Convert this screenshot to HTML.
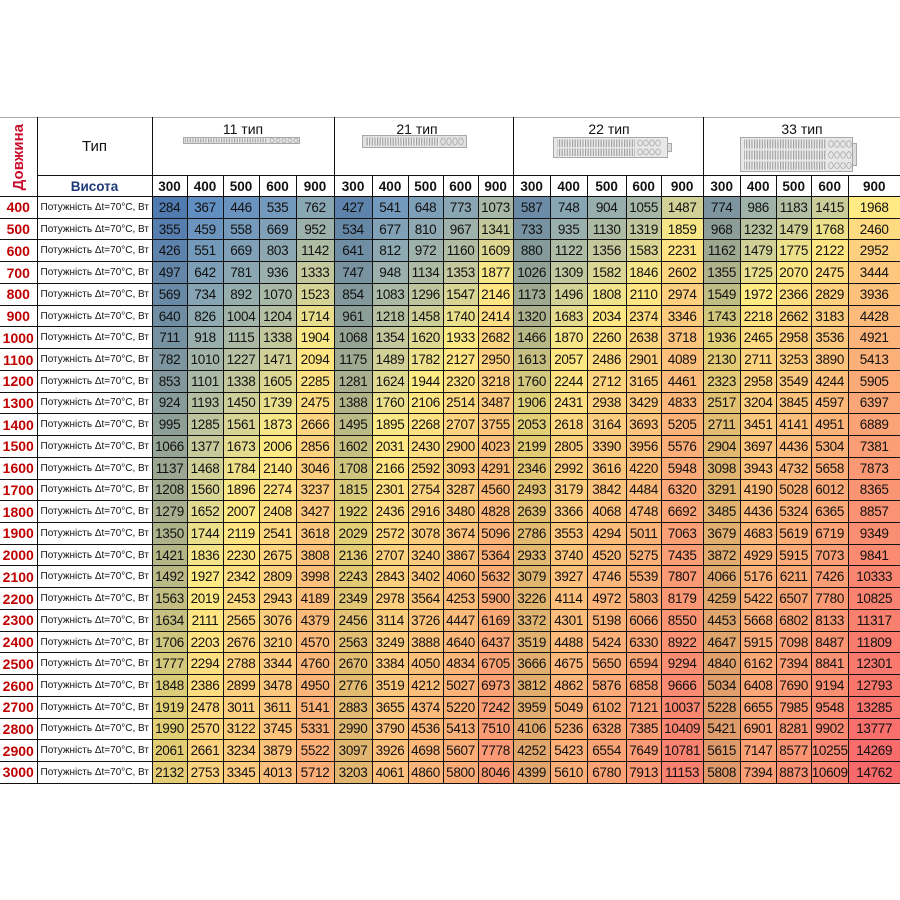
<!DOCTYPE html>
<html><head><meta charset="utf-8">
<style>
html,body{margin:0;padding:0;background:#fff}
body{width:900px;height:900px;overflow:hidden;position:relative;font-family:"Liberation Sans",Arial,sans-serif;color:#111}
table{position:absolute;left:0;top:117px;border-collapse:collapse;table-layout:fixed;width:900px}
td{border:1px solid #111;padding:0;text-align:center;white-space:nowrap;overflow:hidden;vertical-align:middle}
tr.h1{height:58px}
tr.h1 td{border-top-color:#aaa}
tr.h2{height:21px}
tr.h2 td{font-weight:bold;font-size:13.5px}
tr.r{height:21.74px}
td.dv{border-left:none;border-top-color:#aaa}
td.dv div{writing-mode:vertical-rl;transform:rotate(180deg);color:#c8102e;font-weight:bold;font-size:15px;margin:0 auto}
td.tp{font-size:15px}
td.vs{color:#1f3a78!important;font-size:13.5px}
td.n{color:#c00000;font-weight:bold;font-size:14px;border-left:none}
td.t{font-size:10px;text-align:left;padding-left:3px;background:#fff}
td.d{font-size:13.5px;letter-spacing:-0.3px;
--t:clamp(0,(var(--v) - 284)/1666,1);
--u:calc(0.18*clamp(0,(var(--v) - 1950)/732,1) + 0.12*clamp(0,(var(--v) - 2682)/1036,1) + 0.12*clamp(0,(var(--v) - 3718)/1203,1) + 0.18*clamp(0,(var(--v) - 4921)/2460,1) + 0.18*clamp(0,(var(--v) - 7381)/3028,1) + 0.22*clamp(0,(var(--v) - 10409)/4353,1));
background-color:rgb(calc(90 + 165*var(--t) - 7*var(--u)),calc(138 + 97*var(--t) - 130*var(--u)),calc(198 - 66*var(--t) - 25*var(--u)));}
tr.r td:nth-child(5n+3){background-image:linear-gradient(rgba(0,0,0,.11),rgba(0,0,0,.11))}
.g{position:absolute;font-size:14px;line-height:16px;transform:translateX(-50%);white-space:nowrap}
svg.o{position:absolute;left:0;top:0}
</style></head><body>
<table>
<colgroup><col style="width:37px"><col style="width:115px"><col style="width:35px"><col style="width:36px"><col style="width:36px"><col style="width:37px"><col style="width:38px"><col style="width:38px"><col style="width:36px"><col style="width:35px"><col style="width:35px"><col style="width:35px"><col style="width:37px"><col style="width:37px"><col style="width:39px"><col style="width:35px"><col style="width:42px"><col style="width:37px"><col style="width:36px"><col style="width:35px"><col style="width:37px"><col style="width:52px"></colgroup>
<tr class="h1"><td class="dv" rowspan="2"><div>Довжина</div></td><td class="tp">Тип</td><td colspan="5"></td><td colspan="5"></td><td colspan="5"></td><td colspan="5"></td></tr>
<tr class="h2"><td class="vs">Висота</td><td>300</td><td>400</td><td>500</td><td>600</td><td>900</td><td>300</td><td>400</td><td>500</td><td>600</td><td>900</td><td>300</td><td>400</td><td>500</td><td>600</td><td>900</td><td>300</td><td>400</td><td>500</td><td>600</td><td>900</td></tr>
<tr class="r"><td class="n">400</td><td class="t">Потужність Δt=70°C, Вт</td><td class="d" style="--v:284">284</td><td class="d" style="--v:367">367</td><td class="d" style="--v:446">446</td><td class="d" style="--v:535">535</td><td class="d" style="--v:762">762</td><td class="d" style="--v:427">427</td><td class="d" style="--v:541">541</td><td class="d" style="--v:648">648</td><td class="d" style="--v:773">773</td><td class="d" style="--v:1073">1073</td><td class="d" style="--v:587">587</td><td class="d" style="--v:748">748</td><td class="d" style="--v:904">904</td><td class="d" style="--v:1055">1055</td><td class="d" style="--v:1487">1487</td><td class="d" style="--v:774">774</td><td class="d" style="--v:986">986</td><td class="d" style="--v:1183">1183</td><td class="d" style="--v:1415">1415</td><td class="d" style="--v:1968">1968</td></tr>
<tr class="r"><td class="n">500</td><td class="t">Потужність Δt=70°C, Вт</td><td class="d" style="--v:355">355</td><td class="d" style="--v:459">459</td><td class="d" style="--v:558">558</td><td class="d" style="--v:669">669</td><td class="d" style="--v:952">952</td><td class="d" style="--v:534">534</td><td class="d" style="--v:677">677</td><td class="d" style="--v:810">810</td><td class="d" style="--v:967">967</td><td class="d" style="--v:1341">1341</td><td class="d" style="--v:733">733</td><td class="d" style="--v:935">935</td><td class="d" style="--v:1130">1130</td><td class="d" style="--v:1319">1319</td><td class="d" style="--v:1859">1859</td><td class="d" style="--v:968">968</td><td class="d" style="--v:1232">1232</td><td class="d" style="--v:1479">1479</td><td class="d" style="--v:1768">1768</td><td class="d" style="--v:2460">2460</td></tr>
<tr class="r"><td class="n">600</td><td class="t">Потужність Δt=70°C, Вт</td><td class="d" style="--v:426">426</td><td class="d" style="--v:551">551</td><td class="d" style="--v:669">669</td><td class="d" style="--v:803">803</td><td class="d" style="--v:1142">1142</td><td class="d" style="--v:641">641</td><td class="d" style="--v:812">812</td><td class="d" style="--v:972">972</td><td class="d" style="--v:1160">1160</td><td class="d" style="--v:1609">1609</td><td class="d" style="--v:880">880</td><td class="d" style="--v:1122">1122</td><td class="d" style="--v:1356">1356</td><td class="d" style="--v:1583">1583</td><td class="d" style="--v:2231">2231</td><td class="d" style="--v:1162">1162</td><td class="d" style="--v:1479">1479</td><td class="d" style="--v:1775">1775</td><td class="d" style="--v:2122">2122</td><td class="d" style="--v:2952">2952</td></tr>
<tr class="r"><td class="n">700</td><td class="t">Потужність Δt=70°C, Вт</td><td class="d" style="--v:497">497</td><td class="d" style="--v:642">642</td><td class="d" style="--v:781">781</td><td class="d" style="--v:936">936</td><td class="d" style="--v:1333">1333</td><td class="d" style="--v:747">747</td><td class="d" style="--v:948">948</td><td class="d" style="--v:1134">1134</td><td class="d" style="--v:1353">1353</td><td class="d" style="--v:1877">1877</td><td class="d" style="--v:1026">1026</td><td class="d" style="--v:1309">1309</td><td class="d" style="--v:1582">1582</td><td class="d" style="--v:1846">1846</td><td class="d" style="--v:2602">2602</td><td class="d" style="--v:1355">1355</td><td class="d" style="--v:1725">1725</td><td class="d" style="--v:2070">2070</td><td class="d" style="--v:2475">2475</td><td class="d" style="--v:3444">3444</td></tr>
<tr class="r"><td class="n">800</td><td class="t">Потужність Δt=70°C, Вт</td><td class="d" style="--v:569">569</td><td class="d" style="--v:734">734</td><td class="d" style="--v:892">892</td><td class="d" style="--v:1070">1070</td><td class="d" style="--v:1523">1523</td><td class="d" style="--v:854">854</td><td class="d" style="--v:1083">1083</td><td class="d" style="--v:1296">1296</td><td class="d" style="--v:1547">1547</td><td class="d" style="--v:2146">2146</td><td class="d" style="--v:1173">1173</td><td class="d" style="--v:1496">1496</td><td class="d" style="--v:1808">1808</td><td class="d" style="--v:2110">2110</td><td class="d" style="--v:2974">2974</td><td class="d" style="--v:1549">1549</td><td class="d" style="--v:1972">1972</td><td class="d" style="--v:2366">2366</td><td class="d" style="--v:2829">2829</td><td class="d" style="--v:3936">3936</td></tr>
<tr class="r"><td class="n">900</td><td class="t">Потужність Δt=70°C, Вт</td><td class="d" style="--v:640">640</td><td class="d" style="--v:826">826</td><td class="d" style="--v:1004">1004</td><td class="d" style="--v:1204">1204</td><td class="d" style="--v:1714">1714</td><td class="d" style="--v:961">961</td><td class="d" style="--v:1218">1218</td><td class="d" style="--v:1458">1458</td><td class="d" style="--v:1740">1740</td><td class="d" style="--v:2414">2414</td><td class="d" style="--v:1320">1320</td><td class="d" style="--v:1683">1683</td><td class="d" style="--v:2034">2034</td><td class="d" style="--v:2374">2374</td><td class="d" style="--v:3346">3346</td><td class="d" style="--v:1743">1743</td><td class="d" style="--v:2218">2218</td><td class="d" style="--v:2662">2662</td><td class="d" style="--v:3183">3183</td><td class="d" style="--v:4428">4428</td></tr>
<tr class="r"><td class="n">1000</td><td class="t">Потужність Δt=70°C, Вт</td><td class="d" style="--v:711">711</td><td class="d" style="--v:918">918</td><td class="d" style="--v:1115">1115</td><td class="d" style="--v:1338">1338</td><td class="d" style="--v:1904">1904</td><td class="d" style="--v:1068">1068</td><td class="d" style="--v:1354">1354</td><td class="d" style="--v:1620">1620</td><td class="d" style="--v:1933">1933</td><td class="d" style="--v:2682">2682</td><td class="d" style="--v:1466">1466</td><td class="d" style="--v:1870">1870</td><td class="d" style="--v:2260">2260</td><td class="d" style="--v:2638">2638</td><td class="d" style="--v:3718">3718</td><td class="d" style="--v:1936">1936</td><td class="d" style="--v:2465">2465</td><td class="d" style="--v:2958">2958</td><td class="d" style="--v:3536">3536</td><td class="d" style="--v:4921">4921</td></tr>
<tr class="r"><td class="n">1100</td><td class="t">Потужність Δt=70°C, Вт</td><td class="d" style="--v:782">782</td><td class="d" style="--v:1010">1010</td><td class="d" style="--v:1227">1227</td><td class="d" style="--v:1471">1471</td><td class="d" style="--v:2094">2094</td><td class="d" style="--v:1175">1175</td><td class="d" style="--v:1489">1489</td><td class="d" style="--v:1782">1782</td><td class="d" style="--v:2127">2127</td><td class="d" style="--v:2950">2950</td><td class="d" style="--v:1613">1613</td><td class="d" style="--v:2057">2057</td><td class="d" style="--v:2486">2486</td><td class="d" style="--v:2901">2901</td><td class="d" style="--v:4089">4089</td><td class="d" style="--v:2130">2130</td><td class="d" style="--v:2711">2711</td><td class="d" style="--v:3253">3253</td><td class="d" style="--v:3890">3890</td><td class="d" style="--v:5413">5413</td></tr>
<tr class="r"><td class="n">1200</td><td class="t">Потужність Δt=70°C, Вт</td><td class="d" style="--v:853">853</td><td class="d" style="--v:1101">1101</td><td class="d" style="--v:1338">1338</td><td class="d" style="--v:1605">1605</td><td class="d" style="--v:2285">2285</td><td class="d" style="--v:1281">1281</td><td class="d" style="--v:1624">1624</td><td class="d" style="--v:1944">1944</td><td class="d" style="--v:2320">2320</td><td class="d" style="--v:3218">3218</td><td class="d" style="--v:1760">1760</td><td class="d" style="--v:2244">2244</td><td class="d" style="--v:2712">2712</td><td class="d" style="--v:3165">3165</td><td class="d" style="--v:4461">4461</td><td class="d" style="--v:2323">2323</td><td class="d" style="--v:2958">2958</td><td class="d" style="--v:3549">3549</td><td class="d" style="--v:4244">4244</td><td class="d" style="--v:5905">5905</td></tr>
<tr class="r"><td class="n">1300</td><td class="t">Потужність Δt=70°C, Вт</td><td class="d" style="--v:924">924</td><td class="d" style="--v:1193">1193</td><td class="d" style="--v:1450">1450</td><td class="d" style="--v:1739">1739</td><td class="d" style="--v:2475">2475</td><td class="d" style="--v:1388">1388</td><td class="d" style="--v:1760">1760</td><td class="d" style="--v:2106">2106</td><td class="d" style="--v:2514">2514</td><td class="d" style="--v:3487">3487</td><td class="d" style="--v:1906">1906</td><td class="d" style="--v:2431">2431</td><td class="d" style="--v:2938">2938</td><td class="d" style="--v:3429">3429</td><td class="d" style="--v:4833">4833</td><td class="d" style="--v:2517">2517</td><td class="d" style="--v:3204">3204</td><td class="d" style="--v:3845">3845</td><td class="d" style="--v:4597">4597</td><td class="d" style="--v:6397">6397</td></tr>
<tr class="r"><td class="n">1400</td><td class="t">Потужність Δt=70°C, Вт</td><td class="d" style="--v:995">995</td><td class="d" style="--v:1285">1285</td><td class="d" style="--v:1561">1561</td><td class="d" style="--v:1873">1873</td><td class="d" style="--v:2666">2666</td><td class="d" style="--v:1495">1495</td><td class="d" style="--v:1895">1895</td><td class="d" style="--v:2268">2268</td><td class="d" style="--v:2707">2707</td><td class="d" style="--v:3755">3755</td><td class="d" style="--v:2053">2053</td><td class="d" style="--v:2618">2618</td><td class="d" style="--v:3164">3164</td><td class="d" style="--v:3693">3693</td><td class="d" style="--v:5205">5205</td><td class="d" style="--v:2711">2711</td><td class="d" style="--v:3451">3451</td><td class="d" style="--v:4141">4141</td><td class="d" style="--v:4951">4951</td><td class="d" style="--v:6889">6889</td></tr>
<tr class="r"><td class="n">1500</td><td class="t">Потужність Δt=70°C, Вт</td><td class="d" style="--v:1066">1066</td><td class="d" style="--v:1377">1377</td><td class="d" style="--v:1673">1673</td><td class="d" style="--v:2006">2006</td><td class="d" style="--v:2856">2856</td><td class="d" style="--v:1602">1602</td><td class="d" style="--v:2031">2031</td><td class="d" style="--v:2430">2430</td><td class="d" style="--v:2900">2900</td><td class="d" style="--v:4023">4023</td><td class="d" style="--v:2199">2199</td><td class="d" style="--v:2805">2805</td><td class="d" style="--v:3390">3390</td><td class="d" style="--v:3956">3956</td><td class="d" style="--v:5576">5576</td><td class="d" style="--v:2904">2904</td><td class="d" style="--v:3697">3697</td><td class="d" style="--v:4436">4436</td><td class="d" style="--v:5304">5304</td><td class="d" style="--v:7381">7381</td></tr>
<tr class="r"><td class="n">1600</td><td class="t">Потужність Δt=70°C, Вт</td><td class="d" style="--v:1137">1137</td><td class="d" style="--v:1468">1468</td><td class="d" style="--v:1784">1784</td><td class="d" style="--v:2140">2140</td><td class="d" style="--v:3046">3046</td><td class="d" style="--v:1708">1708</td><td class="d" style="--v:2166">2166</td><td class="d" style="--v:2592">2592</td><td class="d" style="--v:3093">3093</td><td class="d" style="--v:4291">4291</td><td class="d" style="--v:2346">2346</td><td class="d" style="--v:2992">2992</td><td class="d" style="--v:3616">3616</td><td class="d" style="--v:4220">4220</td><td class="d" style="--v:5948">5948</td><td class="d" style="--v:3098">3098</td><td class="d" style="--v:3943">3943</td><td class="d" style="--v:4732">4732</td><td class="d" style="--v:5658">5658</td><td class="d" style="--v:7873">7873</td></tr>
<tr class="r"><td class="n">1700</td><td class="t">Потужність Δt=70°C, Вт</td><td class="d" style="--v:1208">1208</td><td class="d" style="--v:1560">1560</td><td class="d" style="--v:1896">1896</td><td class="d" style="--v:2274">2274</td><td class="d" style="--v:3237">3237</td><td class="d" style="--v:1815">1815</td><td class="d" style="--v:2301">2301</td><td class="d" style="--v:2754">2754</td><td class="d" style="--v:3287">3287</td><td class="d" style="--v:4560">4560</td><td class="d" style="--v:2493">2493</td><td class="d" style="--v:3179">3179</td><td class="d" style="--v:3842">3842</td><td class="d" style="--v:4484">4484</td><td class="d" style="--v:6320">6320</td><td class="d" style="--v:3291">3291</td><td class="d" style="--v:4190">4190</td><td class="d" style="--v:5028">5028</td><td class="d" style="--v:6012">6012</td><td class="d" style="--v:8365">8365</td></tr>
<tr class="r"><td class="n">1800</td><td class="t">Потужність Δt=70°C, Вт</td><td class="d" style="--v:1279">1279</td><td class="d" style="--v:1652">1652</td><td class="d" style="--v:2007">2007</td><td class="d" style="--v:2408">2408</td><td class="d" style="--v:3427">3427</td><td class="d" style="--v:1922">1922</td><td class="d" style="--v:2436">2436</td><td class="d" style="--v:2916">2916</td><td class="d" style="--v:3480">3480</td><td class="d" style="--v:4828">4828</td><td class="d" style="--v:2639">2639</td><td class="d" style="--v:3366">3366</td><td class="d" style="--v:4068">4068</td><td class="d" style="--v:4748">4748</td><td class="d" style="--v:6692">6692</td><td class="d" style="--v:3485">3485</td><td class="d" style="--v:4436">4436</td><td class="d" style="--v:5324">5324</td><td class="d" style="--v:6365">6365</td><td class="d" style="--v:8857">8857</td></tr>
<tr class="r"><td class="n">1900</td><td class="t">Потужність Δt=70°C, Вт</td><td class="d" style="--v:1350">1350</td><td class="d" style="--v:1744">1744</td><td class="d" style="--v:2119">2119</td><td class="d" style="--v:2541">2541</td><td class="d" style="--v:3618">3618</td><td class="d" style="--v:2029">2029</td><td class="d" style="--v:2572">2572</td><td class="d" style="--v:3078">3078</td><td class="d" style="--v:3674">3674</td><td class="d" style="--v:5096">5096</td><td class="d" style="--v:2786">2786</td><td class="d" style="--v:3553">3553</td><td class="d" style="--v:4294">4294</td><td class="d" style="--v:5011">5011</td><td class="d" style="--v:7063">7063</td><td class="d" style="--v:3679">3679</td><td class="d" style="--v:4683">4683</td><td class="d" style="--v:5619">5619</td><td class="d" style="--v:6719">6719</td><td class="d" style="--v:9349">9349</td></tr>
<tr class="r"><td class="n">2000</td><td class="t">Потужність Δt=70°C, Вт</td><td class="d" style="--v:1421">1421</td><td class="d" style="--v:1836">1836</td><td class="d" style="--v:2230">2230</td><td class="d" style="--v:2675">2675</td><td class="d" style="--v:3808">3808</td><td class="d" style="--v:2136">2136</td><td class="d" style="--v:2707">2707</td><td class="d" style="--v:3240">3240</td><td class="d" style="--v:3867">3867</td><td class="d" style="--v:5364">5364</td><td class="d" style="--v:2933">2933</td><td class="d" style="--v:3740">3740</td><td class="d" style="--v:4520">4520</td><td class="d" style="--v:5275">5275</td><td class="d" style="--v:7435">7435</td><td class="d" style="--v:3872">3872</td><td class="d" style="--v:4929">4929</td><td class="d" style="--v:5915">5915</td><td class="d" style="--v:7073">7073</td><td class="d" style="--v:9841">9841</td></tr>
<tr class="r"><td class="n">2100</td><td class="t">Потужність Δt=70°C, Вт</td><td class="d" style="--v:1492">1492</td><td class="d" style="--v:1927">1927</td><td class="d" style="--v:2342">2342</td><td class="d" style="--v:2809">2809</td><td class="d" style="--v:3998">3998</td><td class="d" style="--v:2243">2243</td><td class="d" style="--v:2843">2843</td><td class="d" style="--v:3402">3402</td><td class="d" style="--v:4060">4060</td><td class="d" style="--v:5632">5632</td><td class="d" style="--v:3079">3079</td><td class="d" style="--v:3927">3927</td><td class="d" style="--v:4746">4746</td><td class="d" style="--v:5539">5539</td><td class="d" style="--v:7807">7807</td><td class="d" style="--v:4066">4066</td><td class="d" style="--v:5176">5176</td><td class="d" style="--v:6211">6211</td><td class="d" style="--v:7426">7426</td><td class="d" style="--v:10333">10333</td></tr>
<tr class="r"><td class="n">2200</td><td class="t">Потужність Δt=70°C, Вт</td><td class="d" style="--v:1563">1563</td><td class="d" style="--v:2019">2019</td><td class="d" style="--v:2453">2453</td><td class="d" style="--v:2943">2943</td><td class="d" style="--v:4189">4189</td><td class="d" style="--v:2349">2349</td><td class="d" style="--v:2978">2978</td><td class="d" style="--v:3564">3564</td><td class="d" style="--v:4253">4253</td><td class="d" style="--v:5900">5900</td><td class="d" style="--v:3226">3226</td><td class="d" style="--v:4114">4114</td><td class="d" style="--v:4972">4972</td><td class="d" style="--v:5803">5803</td><td class="d" style="--v:8179">8179</td><td class="d" style="--v:4259">4259</td><td class="d" style="--v:5422">5422</td><td class="d" style="--v:6507">6507</td><td class="d" style="--v:7780">7780</td><td class="d" style="--v:10825">10825</td></tr>
<tr class="r"><td class="n">2300</td><td class="t">Потужність Δt=70°C, Вт</td><td class="d" style="--v:1634">1634</td><td class="d" style="--v:2111">2111</td><td class="d" style="--v:2565">2565</td><td class="d" style="--v:3076">3076</td><td class="d" style="--v:4379">4379</td><td class="d" style="--v:2456">2456</td><td class="d" style="--v:3114">3114</td><td class="d" style="--v:3726">3726</td><td class="d" style="--v:4447">4447</td><td class="d" style="--v:6169">6169</td><td class="d" style="--v:3372">3372</td><td class="d" style="--v:4301">4301</td><td class="d" style="--v:5198">5198</td><td class="d" style="--v:6066">6066</td><td class="d" style="--v:8550">8550</td><td class="d" style="--v:4453">4453</td><td class="d" style="--v:5668">5668</td><td class="d" style="--v:6802">6802</td><td class="d" style="--v:8133">8133</td><td class="d" style="--v:11317">11317</td></tr>
<tr class="r"><td class="n">2400</td><td class="t">Потужність Δt=70°C, Вт</td><td class="d" style="--v:1706">1706</td><td class="d" style="--v:2203">2203</td><td class="d" style="--v:2676">2676</td><td class="d" style="--v:3210">3210</td><td class="d" style="--v:4570">4570</td><td class="d" style="--v:2563">2563</td><td class="d" style="--v:3249">3249</td><td class="d" style="--v:3888">3888</td><td class="d" style="--v:4640">4640</td><td class="d" style="--v:6437">6437</td><td class="d" style="--v:3519">3519</td><td class="d" style="--v:4488">4488</td><td class="d" style="--v:5424">5424</td><td class="d" style="--v:6330">6330</td><td class="d" style="--v:8922">8922</td><td class="d" style="--v:4647">4647</td><td class="d" style="--v:5915">5915</td><td class="d" style="--v:7098">7098</td><td class="d" style="--v:8487">8487</td><td class="d" style="--v:11809">11809</td></tr>
<tr class="r"><td class="n">2500</td><td class="t">Потужність Δt=70°C, Вт</td><td class="d" style="--v:1777">1777</td><td class="d" style="--v:2294">2294</td><td class="d" style="--v:2788">2788</td><td class="d" style="--v:3344">3344</td><td class="d" style="--v:4760">4760</td><td class="d" style="--v:2670">2670</td><td class="d" style="--v:3384">3384</td><td class="d" style="--v:4050">4050</td><td class="d" style="--v:4834">4834</td><td class="d" style="--v:6705">6705</td><td class="d" style="--v:3666">3666</td><td class="d" style="--v:4675">4675</td><td class="d" style="--v:5650">5650</td><td class="d" style="--v:6594">6594</td><td class="d" style="--v:9294">9294</td><td class="d" style="--v:4840">4840</td><td class="d" style="--v:6162">6162</td><td class="d" style="--v:7394">7394</td><td class="d" style="--v:8841">8841</td><td class="d" style="--v:12301">12301</td></tr>
<tr class="r"><td class="n">2600</td><td class="t">Потужність Δt=70°C, Вт</td><td class="d" style="--v:1848">1848</td><td class="d" style="--v:2386">2386</td><td class="d" style="--v:2899">2899</td><td class="d" style="--v:3478">3478</td><td class="d" style="--v:4950">4950</td><td class="d" style="--v:2776">2776</td><td class="d" style="--v:3519">3519</td><td class="d" style="--v:4212">4212</td><td class="d" style="--v:5027">5027</td><td class="d" style="--v:6973">6973</td><td class="d" style="--v:3812">3812</td><td class="d" style="--v:4862">4862</td><td class="d" style="--v:5876">5876</td><td class="d" style="--v:6858">6858</td><td class="d" style="--v:9666">9666</td><td class="d" style="--v:5034">5034</td><td class="d" style="--v:6408">6408</td><td class="d" style="--v:7690">7690</td><td class="d" style="--v:9194">9194</td><td class="d" style="--v:12793">12793</td></tr>
<tr class="r"><td class="n">2700</td><td class="t">Потужність Δt=70°C, Вт</td><td class="d" style="--v:1919">1919</td><td class="d" style="--v:2478">2478</td><td class="d" style="--v:3011">3011</td><td class="d" style="--v:3611">3611</td><td class="d" style="--v:5141">5141</td><td class="d" style="--v:2883">2883</td><td class="d" style="--v:3655">3655</td><td class="d" style="--v:4374">4374</td><td class="d" style="--v:5220">5220</td><td class="d" style="--v:7242">7242</td><td class="d" style="--v:3959">3959</td><td class="d" style="--v:5049">5049</td><td class="d" style="--v:6102">6102</td><td class="d" style="--v:7121">7121</td><td class="d" style="--v:10037">10037</td><td class="d" style="--v:5228">5228</td><td class="d" style="--v:6655">6655</td><td class="d" style="--v:7985">7985</td><td class="d" style="--v:9548">9548</td><td class="d" style="--v:13285">13285</td></tr>
<tr class="r"><td class="n">2800</td><td class="t">Потужність Δt=70°C, Вт</td><td class="d" style="--v:1990">1990</td><td class="d" style="--v:2570">2570</td><td class="d" style="--v:3122">3122</td><td class="d" style="--v:3745">3745</td><td class="d" style="--v:5331">5331</td><td class="d" style="--v:2990">2990</td><td class="d" style="--v:3790">3790</td><td class="d" style="--v:4536">4536</td><td class="d" style="--v:5413">5413</td><td class="d" style="--v:7510">7510</td><td class="d" style="--v:4106">4106</td><td class="d" style="--v:5236">5236</td><td class="d" style="--v:6328">6328</td><td class="d" style="--v:7385">7385</td><td class="d" style="--v:10409">10409</td><td class="d" style="--v:5421">5421</td><td class="d" style="--v:6901">6901</td><td class="d" style="--v:8281">8281</td><td class="d" style="--v:9902">9902</td><td class="d" style="--v:13777">13777</td></tr>
<tr class="r"><td class="n">2900</td><td class="t">Потужність Δt=70°C, Вт</td><td class="d" style="--v:2061">2061</td><td class="d" style="--v:2661">2661</td><td class="d" style="--v:3234">3234</td><td class="d" style="--v:3879">3879</td><td class="d" style="--v:5522">5522</td><td class="d" style="--v:3097">3097</td><td class="d" style="--v:3926">3926</td><td class="d" style="--v:4698">4698</td><td class="d" style="--v:5607">5607</td><td class="d" style="--v:7778">7778</td><td class="d" style="--v:4252">4252</td><td class="d" style="--v:5423">5423</td><td class="d" style="--v:6554">6554</td><td class="d" style="--v:7649">7649</td><td class="d" style="--v:10781">10781</td><td class="d" style="--v:5615">5615</td><td class="d" style="--v:7147">7147</td><td class="d" style="--v:8577">8577</td><td class="d" style="--v:10255">10255</td><td class="d" style="--v:14269">14269</td></tr>
<tr class="r"><td class="n">3000</td><td class="t">Потужність Δt=70°C, Вт</td><td class="d" style="--v:2132">2132</td><td class="d" style="--v:2753">2753</td><td class="d" style="--v:3345">3345</td><td class="d" style="--v:4013">4013</td><td class="d" style="--v:5712">5712</td><td class="d" style="--v:3203">3203</td><td class="d" style="--v:4061">4061</td><td class="d" style="--v:4860">4860</td><td class="d" style="--v:5800">5800</td><td class="d" style="--v:8046">8046</td><td class="d" style="--v:4399">4399</td><td class="d" style="--v:5610">5610</td><td class="d" style="--v:6780">6780</td><td class="d" style="--v:7913">7913</td><td class="d" style="--v:11153">11153</td><td class="d" style="--v:5808">5808</td><td class="d" style="--v:7394">7394</td><td class="d" style="--v:8873">8873</td><td class="d" style="--v:10609">10609</td><td class="d" style="--v:14762">14762</td></tr>
</table>

<div class="g" style="left:243px;top:121px">11 тип</div>
<div class="g" style="left:417px;top:121px">21 тип</div>
<div class="g" style="left:609px;top:121px">22 тип</div>
<div class="g" style="left:802px;top:121px">33 тип</div>

<svg class="o" width="900" height="900" viewBox="0 0 900 900">
<defs>
<pattern id="st" x="0" y="0" width="2.6" height="40" patternUnits="userSpaceOnUse"><rect width="2.6" height="40" fill="#ececec"/><rect width="1.1" height="40" fill="#9c9c9c"/></pattern>
</defs>
<rect x="183.5" y="137.5" width="116" height="6" fill="#e2e2e2" stroke="#a8a8a8"/>
<rect x="185" y="138.5" width="82" height="4" fill="url(#st)"/>
<g fill="none" stroke="#a8a8a8" stroke-width="0.8"><circle cx="272" cy="140.5" r="2"/><circle cx="278" cy="140.5" r="2"/><circle cx="284" cy="140.5" r="2"/><circle cx="290" cy="140.5" r="2"/><circle cx="296" cy="140.5" r="2"/></g>
<rect x="362.5" y="135.5" width="104" height="12" fill="#e2e2e2" stroke="#a8a8a8"/>
<rect x="365" y="137.5" width="74" height="8" fill="url(#st)"/>
<g fill="none" stroke="#a8a8a8" stroke-width="0.8"><ellipse cx="443" cy="141.5" rx="2.2" ry="3.5"/><ellipse cx="449" cy="141.5" rx="2.2" ry="3.5"/><ellipse cx="455" cy="141.5" rx="2.2" ry="3.5"/><ellipse cx="461" cy="141.5" rx="2.2" ry="3.5"/></g>
<rect x="553.5" y="137.5" width="114" height="20" fill="#e8e8e8" stroke="#a8a8a8"/>
<rect x="667.5" y="143.5" width="4" height="8" fill="#ddd" stroke="#a8a8a8"/>
<rect x="557" y="139.5" width="78" height="7.5" fill="url(#st)"/>
<rect x="557" y="148.5" width="78" height="7.5" fill="url(#st)"/>
<g fill="none" stroke="#a8a8a8" stroke-width="0.8"><ellipse cx="640" cy="143" rx="2.3" ry="3"/><ellipse cx="646" cy="143" rx="2.3" ry="3"/><ellipse cx="652" cy="143" rx="2.3" ry="3"/><ellipse cx="658" cy="143" rx="2.3" ry="3"/><ellipse cx="640" cy="152" rx="2.3" ry="3"/><ellipse cx="646" cy="152" rx="2.3" ry="3"/><ellipse cx="652" cy="152" rx="2.3" ry="3"/><ellipse cx="658" cy="152" rx="2.3" ry="3"/></g>
<rect x="740.5" y="137.5" width="112" height="34" fill="#e8e8e8" stroke="#a8a8a8"/>
<rect x="852.5" y="143.5" width="4" height="22" fill="#ddd" stroke="#a8a8a8"/>
<rect x="744" y="139.5" width="82" height="9" fill="url(#st)"/>
<rect x="744" y="150.5" width="82" height="9" fill="url(#st)"/>
<rect x="744" y="161.5" width="82" height="8" fill="url(#st)"/>
<g fill="none" stroke="#a8a8a8" stroke-width="0.8"><ellipse cx="831" cy="144" rx="2.3" ry="3.3"/><ellipse cx="837" cy="144" rx="2.3" ry="3.3"/><ellipse cx="843" cy="144" rx="2.3" ry="3.3"/><ellipse cx="849" cy="144" rx="2.3" ry="3.3"/><ellipse cx="831" cy="155" rx="2.3" ry="3.3"/><ellipse cx="837" cy="155" rx="2.3" ry="3.3"/><ellipse cx="843" cy="155" rx="2.3" ry="3.3"/><ellipse cx="849" cy="155" rx="2.3" ry="3.3"/><ellipse cx="831" cy="165.5" rx="2.3" ry="3"/><ellipse cx="837" cy="165.5" rx="2.3" ry="3"/><ellipse cx="843" cy="165.5" rx="2.3" ry="3"/><ellipse cx="849" cy="165.5" rx="2.3" ry="3"/></g>
</svg>
</body></html>
